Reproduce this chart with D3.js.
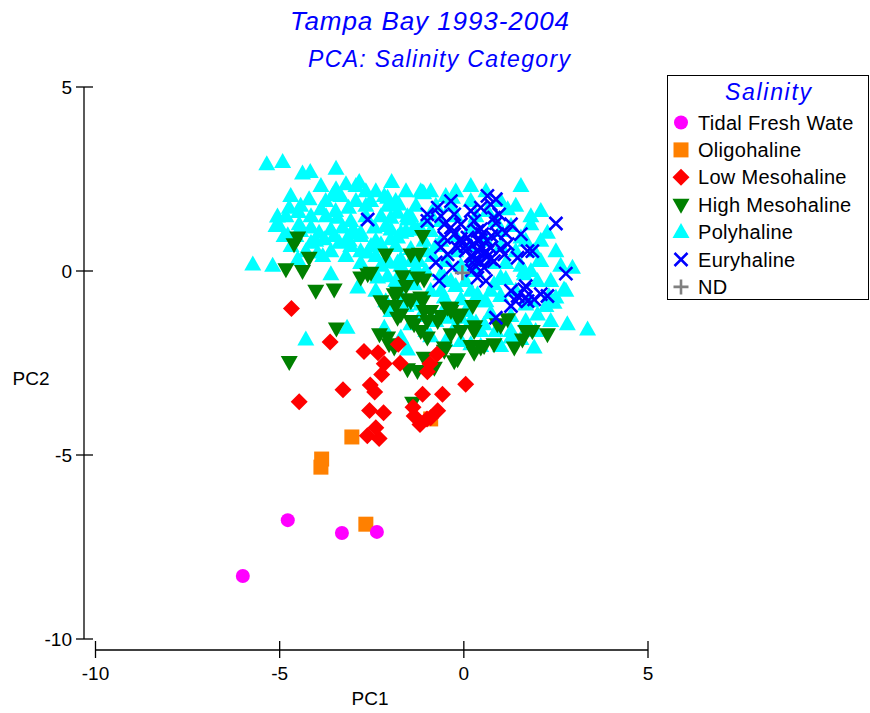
<!DOCTYPE html>
<html>
<head>
<meta charset="utf-8">
<script src="https://cdn.jsdelivr.net/npm/d3@7"></script>
<style>
  html, body { margin: 0; padding: 0; background: #fff; }
  svg { display: block; }
  text { font-family: "Liberation Sans", Arial, sans-serif; }
</style>
</head>
<body>
<svg id="chart" width="870" height="713"></svg>
<script>
// PCA scores (PC1, PC2) by salinity category, Tampa Bay 1993-2004
const tidalFresh = [
  [-4.78, -6.77], [-3.31, -7.12], [-2.36, -7.09], [-6.00, -8.29]
];

const oligohaline = [
  [-3.04, -4.51], [-3.86, -5.11], [-3.88, -5.33], [-2.66, -6.88], [-0.90, -4.02]
];

const lowMeso = [
  [-4.68, -1.02], [-3.63, -1.93], [-2.71, -2.19], [-2.33, -2.22], [-2.16, -2.52],
  [-1.78, -1.99], [-1.73, -2.51], [-2.23, -2.81], [-3.28, -3.23], [-2.54, -3.10],
  [-2.42, -3.29], [-4.47, -3.55], [-2.56, -3.79], [-2.18, -3.85], [-1.12, -3.35],
  [-0.58, -3.35], [0.05, -3.08], [-1.35, -3.94], [-1.19, -4.17], [-0.71, -3.80],
  [-0.90, -3.99], [-2.39, -4.26], [-2.62, -4.48], [-2.30, -4.55], [-0.92, -2.52],
  [-0.99, -2.74], [-0.73, -2.26], [-1.38, -3.70], [-1.00, -4.02]
];

const highMeso = [
  [-4.51, 0.91], [-4.61, 0.73], [-4.20, 0.36], [-4.83, 0.05], [-4.38, 0.00],
  [-4.02, -0.54], [-3.52, -0.50], [-2.80, -0.18], [-2.52, -0.05], [-2.12, 0.45],
  [-1.44, 0.45], [-1.12, 0.95], [-1.66, -0.14], [-1.26, -0.18], [-1.08, -0.23],
  [-1.80, -0.59], [-1.21, 0.47], [-3.46, -1.56], [-4.74, -2.47], [-1.39, -3.58],
  [-1.89, -0.63], [-2.16, -0.95], [-1.80, -1.27], [-2.07, -1.81], [-1.89, -2.08],
  [-1.53, -2.67], [-1.26, -2.72], [-1.08, -2.36], [-0.80, -2.63], [-0.53, -2.08],
  [-0.17, -2.40], [-0.35, -1.72], [-0.99, -1.81], [-1.35, -1.45], [-1.08, -1.09],
  [-0.71, -1.36], [-0.17, -1.27], [-1.53, -0.77], [-1.17, -0.72], [-0.35, -1.00],
  [-2.61, -0.09], [-1.44, -0.82], [-1.12, -0.82], [-0.99, -1.36], [-0.35, -1.09],
  [-0.08, -1.18], [0.28, -1.63], [-0.53, -2.17], [-0.26, -2.45], [-2.29, -1.72],
  [-2.03, -1.99], [-1.71, -1.18], [0.30, -1.50], [0.55, -2.04], [0.91, -1.45],
  [0.82, -1.99], [1.19, -1.31], [1.37, -2.08], [1.68, -1.63], [1.59, -1.86],
  [1.86, -1.63], [2.27, -1.72], [0.28, -2.22], [0.24, -0.95], [-0.44, -1.00],
  [0.46, -2.08], [1.00, -1.49], [-1.85, -0.95], [-1.44, -1.36], [-1.17, -1.63],
  [-0.62, -1.22], [-0.08, -1.63], [0.19, -2.04], [-0.90, -1.09], [-1.57, -0.41],
  [-2.25, -0.82]
];

const polyhaline = [
  [-5.35, 2.90], [-4.92, 2.96], [-4.38, 2.65], [-4.17, 2.69], [-3.47, 2.78],
  [-3.20, 2.36], [-2.84, 2.42], [-1.96, 2.42], [-1.09, 2.11], [-3.47, 2.22],
  [-3.56, 2.06], [-4.20, 1.95], [-4.74, 1.72], [-5.06, 1.48], [-4.49, 1.60],
  [-3.88, 1.68], [-3.13, 1.72], [-3.74, 1.49], [-3.43, 1.45], [-5.01, 1.22],
  [-4.78, 0.97], [-4.47, 1.27], [-4.15, 1.18], [-3.93, 1.04], [-3.61, 1.13],
  [-3.29, 1.18], [-3.07, 1.02], [-2.80, 1.04], [-2.16, 2.04], [-2.07, 1.77],
  [-1.80, 1.58], [-1.53, 1.40], [-1.26, 1.13], [-1.98, 1.13], [-1.71, 1.04],
  [-2.52, 0.68], [-3.79, 0.86], [-3.38, 0.77], [-3.07, 0.68], [-3.97, 0.50],
  [-4.51, 0.32], [-3.83, 0.41], [-5.19, 0.14], [-5.73, 0.18], [-3.61, -0.09],
  [-2.88, -0.45], [-2.61, 0.50], [-1.98, 0.86], [-2.25, 0.14], [-2.07, -0.14],
  [-1.53, -0.23], [-1.80, 0.23], [-1.35, 0.41], [-4.15, 0.77], [-4.69, 0.68],
  [-4.88, 0.95], [-3.52, 0.95],
  [-1.12, 2.13], [-0.90, 2.17], [-0.31, 1.99], [-2.07, 1.99], [-1.76, 1.81],
  [-1.53, 1.49], [-1.98, 1.45], [-2.43, 1.18], [-2.98, 1.09], [-1.35, 1.18],
  [-1.80, 0.91], [-2.25, 0.73], [-3.11, 0.82], [-2.80, 0.54], [-1.71, 0.32],
  [-2.03, 0.23], [-1.08, 0.82], [-1.39, 0.27], [-0.85, 0.41],
  [1.19, 1.68], [1.82, 1.27], [2.27, 1.04], [1.55, 0.91], [1.91, 0.54],
  [2.04, 0.27], [2.95, 0.09], [2.72, -0.50], [2.31, -0.68], [-1.17, 1.13],
  [-1.30, 0.09], [-0.53, -0.18], [1.00, -0.18], [1.64, 0.00], [0.19, 1.18],
  [-0.90, 1.54], [0.64, 1.63], [0.73, -0.54], [2.00, -0.27],
  [2.77, -0.54], [2.50, -0.72], [2.36, -1.36], [2.81, -1.45], [3.36, -1.59],
  [1.91, -2.08], [1.28, -1.81], [-0.08, -0.77], [0.46, -0.82], [0.82, -0.36],
  [-0.62, -0.09], [0.28, 0.27], [2.09, 0.27], [-0.44, -1.27], [0.55, -1.45],
  [1.64, -0.09], [2.45, -0.86], [0.37, -0.63], [0.33, -1.40], [1.68, -0.91],
  [2.00, -1.18],
  [-2.34, -0.18], [-1.35, -0.36], [-0.53, -0.72], [-0.35, -0.27], [-1.17, -0.91],
  [-1.98, -1.09], [-1.44, -1.45], [-2.16, -1.54], [-1.71, -1.81], [-1.53, -2.13],
  [0.19, -1.99], [-0.08, -1.27], [0.46, -1.63], [-3.17, -1.54], [-4.29, -1.86],
  [-0.62, 0.82], [-0.22, 0.95], [0.19, 0.68], [0.60, 0.82], [1.00, 0.68],
  [1.41, 0.54], [1.68, 0.82], [-0.49, 0.27], [-0.08, 0.14], [0.33, 0.00],
  [0.73, 0.22], [1.14, 0.22], [1.55, 0.14], [-0.22, -0.41], [0.19, -0.54],
  [1.00, -0.68], [1.41, -0.54], [1.82, -0.82], [-0.49, -0.95], [0.05, -1.09],
  [0.73, -1.14], [1.28, -1.22], [1.68, -1.36], [-0.22, -1.49], [0.87, -1.63],
  [1.95, -1.63], [1.55, -1.85], [-1.03, 0.00], [-0.90, -0.54], [-1.30, -0.82],
  [-0.76, -1.36], [-1.71, -0.68], [-1.85, 0.68], [-1.44, 0.60], [-1.03, 0.54],
  [-0.62, 1.36], [-0.22, 1.49], [0.33, 1.49], [0.87, 1.36], [1.28, 1.22],
  [1.82, 1.49], [1.00, 1.90], [1.41, 1.77], [0.19, 1.90], [-0.35, 1.77],
  [-0.76, 1.77], [0.60, 2.17], [-2.25, 1.49], [-2.66, 1.49], [-2.53, 1.90],
  [-2.93, 1.90], [-3.34, 2.04], [-3.75, 1.90], [-4.43, 1.09], [-4.02, 0.82],
  [-4.56, 0.95], [-4.83, 1.49], [-2.80, 0.95], [-2.39, 0.41], [-3.20, 0.41],
  [-3.61, 0.54], [-2.80, 0.22], [-1.85, -0.27], [-2.39, -0.54], [-2.12, -0.82],
  [-1.57, -0.95], [-1.17, -1.22], [-0.90, -1.77], [-0.08, -1.90], [0.46, -2.04],
  [1.00, -2.04], [-1.17, 2.17], [-1.57, 2.17], [-2.39, 2.17], [-2.66, 2.17],
  [-1.30, 1.77], [-0.90, 1.09], [-0.49, 2.04], [-1.71, 0.14],
  [-4.70, 2.04], [-4.15, 1.49], [-5.10, 1.22], [-3.48, 1.63], [-3.07, 1.36],
  [-2.66, 1.77], [-2.12, 1.22], [-1.57, 1.09], [-2.39, 0.82], [-3.20, 0.82],
  [-4.29, 0.54], [-2.12, 0.27], [-1.44, -0.14], [-1.85, 1.90], [-2.93, 2.31],
  [-3.88, 2.31], [-4.43, 1.77], [-1.44, 1.49], [-1.03, 1.36], [-0.76, 0.68],
  [-1.22, 0.27], [-0.22, 0.54], [1.00, 1.09], [2.09, 0.82], [1.82, 0.00],
  [2.36, -0.27], [2.23, -0.95], [1.28, -1.63], [0.19, -1.36], [-0.62, -0.54],
  [0.60, -0.82], [1.14, -0.22], [0.05, -0.27], [1.55, 2.31], [0.19, 2.31],
  [-0.22, 2.17], [2.09, 1.63], [2.50, 0.54], [2.63, 0.14], [-1.03, -1.63],
  [-0.49, -1.90]
];

const euryhaline = [
  [-2.61, 1.40], [-0.71, 1.72], [-0.99, 1.54], [0.64, 2.04], [0.87, 1.95],
  [0.73, 1.81], [2.50, 1.29], [2.77, -0.07], [-0.76, 0.23], [-0.67, -0.27],
  [-0.26, 1.54], [0.19, 1.63], [0.46, 1.72], [0.96, 1.54], [1.28, 1.27],
  [1.55, 1.00], [1.86, 0.54], [-0.35, 1.18], [-0.53, 0.91], [-0.17, 0.63],
  [0.10, 0.91], [0.37, 0.54], [0.64, 0.82], [0.91, 1.00], [1.19, 0.73],
  [1.46, 0.36], [0.82, 0.27], [0.55, 0.09], [0.28, 0.18],
  [-0.31, 0.09], [-0.44, 0.45], [-0.26, 1.00], [0.37, 1.09], [0.28, 1.36],
  [-0.08, 1.27], [-0.53, 1.27], [-0.99, 1.36], [0.82, 1.45], [1.10, 0.45],
  [0.37, -0.18], [0.60, -0.27], [1.28, -0.54], [1.46, -0.68], [1.68, -0.72],
  [1.91, -0.77], [1.64, -0.50], [0.46, 0.63], [0.19, 0.41], [0.73, 0.63],
  [1.73, 0.54], [1.73, -0.82], [1.28, -0.95], [0.87, -1.27], [2.27, -0.68],
  [2.09, -0.63], [0.40, 0.80], [0.55, 0.45], [0.25, 0.70], [0.50, 1.00],
  [0.65, 0.40], [0.30, 0.30], [0.45, 0.25], [0.75, 0.95], [0.05, 0.55],
  [-0.10, 0.80], [0.41, 0.87], [0.60, 0.54], [0.24, 0.38], [0.73, 0.33],
  [1.00, 0.60], [0.05, 0.68], [0.46, 1.14], [-0.08, 0.87], [1.14, 1.03],
  [0.87, 1.30], [-0.62, 1.49], [-0.35, 1.90], [0.22, 0.02], [-0.62, 0.65],
  [1.41, -0.82], [1.68, -0.41]
];

const notDetermined = [
  [-0.04, -0.05]
];

// Axis ticks and labels
const xTicks = [-10, -5, 0, 5];
const yTicks = [-10, -5, 0, 5];
const titleText = "Tampa Bay 1993-2004";
const subtitleText = "PCA: Salinity Category";
const xLabel = "PC1";
const yLabel = "PC2";
const legendTitle = "Salinity";

// Series table (draw order bottom to top)
const series = [
  { name: "Polyhaline",        data: polyhaline,    shape: "triUp",   color: "#00FFFF" },
  { name: "High Mesohaline",   data: highMeso,      shape: "triDown", color: "#008000" },
  { name: "Oligohaline",       data: oligohaline,   shape: "square",  color: "#FF8000" },
  { name: "Low Mesohaline",    data: lowMeso,       shape: "diamond", color: "#FF0000" },
  { name: "Tidal Fresh Wate",  data: tidalFresh,    shape: "circle",  color: "#FF00FF" },
  { name: "Euryhaline",        data: euryhaline,    shape: "cross",   color: "#0000FF" },
  { name: "ND",                data: notDetermined, shape: "plus",    color: "#808080" }
];
const legendOrder = ["Tidal Fresh Wate", "Oligohaline", "Low Mesohaline",
                     "High Mesohaline", "Polyhaline", "Euryhaline", "ND"];

const svg = d3.select("#chart");

const x = d3.scaleLinear().domain([-10, 5]).range([95.5, 648]);
const y = d3.scaleLinear().domain([-10, 5]).range([639, 87]);

// Marker outlines centred on the origin
function markerPath(shape) {
  switch (shape) {
    case "triUp":   return "M0,-9L8.5,6L-8.5,6Z";
    case "triDown": return "M0,9L8.5,-6L-8.5,-6Z";
    case "diamond": return "M0,-8.5L8.5,0L0,8.5L-8.5,0Z";
    case "square":  return "M-7.5,-7.5H7.5V7.5H-7.5Z";
    case "circle":  return d3.symbol(d3.symbolCircle, Math.PI * 49)();
    case "cross":   return "M-6.5,-6.5L6.5,6.5M6.5,-6.5L-6.5,6.5";
    case "plus":    return "M-7.5,0H7.5M0,-7.5V7.5";
  }
}
function styleMarker(sel, s) {
  if (s.shape === "cross" || s.shape === "plus") {
    sel.attr("fill", "none").attr("stroke", s.color).attr("stroke-width", 2.6);
  } else {
    sel.attr("fill", s.color).attr("stroke", "none");
  }
}

// Points
const plot = svg.append("g");
series.forEach(s => {
  plot.append("g").selectAll("path")
    .data(s.data)
    .join("path")
    .attr("d", markerPath(s.shape))
    .attr("transform", d => `translate(${x(d[0])},${y(d[1])})`)
    .call(sel => styleMarker(sel, s));
});

// Axes: detached from the plot, with ticks crossing the line
const axisColor = "#000";
const xAxisY = 650;
const yAxisX = 84;

const xAxis = svg.append("g");
xAxis.append("line")
  .attr("x1", x(-10)).attr("x2", x(5))
  .attr("y1", xAxisY).attr("y2", xAxisY)
  .attr("stroke", axisColor).attr("stroke-width", 1.3);
xAxis.selectAll("line.tick").data(xTicks).join("line")
  .attr("class", "tick")
  .attr("x1", d => x(d)).attr("x2", d => x(d))
  .attr("y1", xAxisY - 9).attr("y2", xAxisY + 8)
  .attr("stroke", axisColor).attr("stroke-width", 1.3);
xAxis.selectAll("text").data(xTicks).join("text")
  .attr("x", d => x(d)).attr("y", 680)
  .attr("text-anchor", "middle")
  .attr("font-size", 19)
  .text(d => d);

const yAxis = svg.append("g");
yAxis.append("line")
  .attr("x1", yAxisX).attr("x2", yAxisX)
  .attr("y1", y(5)).attr("y2", y(-10))
  .attr("stroke", axisColor).attr("stroke-width", 1.3);
yAxis.selectAll("line.tick").data(yTicks).join("line")
  .attr("class", "tick")
  .attr("x1", yAxisX - 8).attr("x2", yAxisX + 9)
  .attr("y1", d => y(d)).attr("y2", d => y(d))
  .attr("stroke", axisColor).attr("stroke-width", 1.3);
yAxis.selectAll("text").data(yTicks).join("text")
  .attr("x", 72).attr("y", d => y(d) + 7)
  .attr("text-anchor", "end")
  .attr("font-size", 19)
  .text(d => d);

// Axis titles
svg.append("text")
  .attr("x", 370).attr("y", 705)
  .attr("text-anchor", "middle").attr("font-size", 19)
  .text(xLabel);
svg.append("text")
  .attr("x", 31).attr("y", 385)
  .attr("text-anchor", "middle").attr("font-size", 19)
  .text(yLabel);

// Titles
svg.append("text")
  .attr("x", 290).attr("y", 30)
  .attr("font-size", 26).attr("font-style", "italic")
  .attr("fill", "#0000FF")
  .attr("textLength", 279).attr("lengthAdjust", "spacing")
  .text(titleText);
svg.append("text")
  .attr("x", 308).attr("y", 67)
  .attr("font-size", 23).attr("font-style", "italic")
  .attr("fill", "#0000FF")
  .attr("textLength", 262).attr("lengthAdjust", "spacing")
  .text(subtitleText);

// Legend
const legend = svg.append("g");
legend.append("rect")
  .attr("x", 667.5).attr("y", 75.5)
  .attr("width", 201).attr("height", 224)
  .attr("fill", "#fff").attr("stroke", "#000").attr("stroke-width", 1);
legend.append("text")
  .attr("x", 725).attr("y", 100)
  .attr("font-size", 23).attr("font-style", "italic")
  .attr("fill", "#0000FF")
  .attr("textLength", 86).attr("lengthAdjust", "spacing")
  .text(legendTitle);

const legendItems = legendOrder.map(n => series.find(s => s.name === n));
const rows = legend.selectAll("g.row").data(legendItems).join("g")
  .attr("class", "row")
  .attr("transform", (d, i) => `translate(0,${122.5 + i * 27.4})`);
rows.append("path")
  .attr("d", d => markerPath(d.shape))
  .attr("transform", "translate(681,0)")
  .each(function(d) { styleMarker(d3.select(this), d); });
rows.append("text")
  .attr("x", 698).attr("y", 7)
  .attr("font-size", 20)
  .attr("letter-spacing", 0.3)
  .text(d => d.name);
</script>
</body>
</html>
